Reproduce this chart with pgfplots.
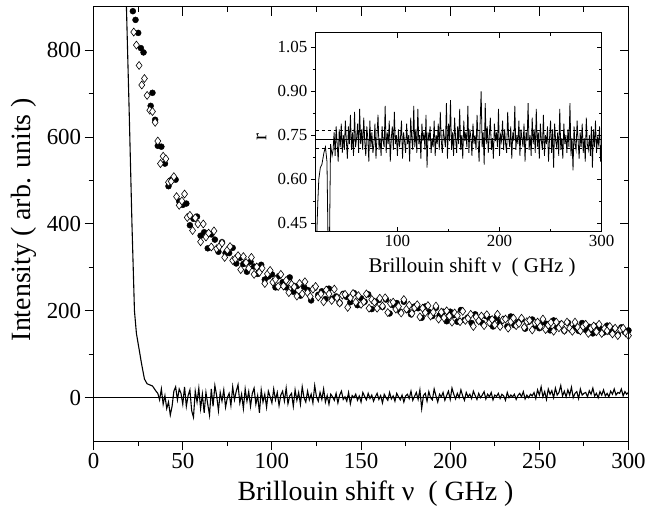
\documentclass[border=0pt]{standalone}
\usepackage{fontspec}
\setmainfont{Liberation Serif}
\usepackage{pgfplots}
\pgfplotsset{compat=1.18}
\begin{document}
\begin{tikzpicture}
\pgfplotsset{
  /pgf/number format/assume math mode=true,
  mainax/.style={scale only axis, width=537pt, height=436pt,
    xmin=0, xmax=300, ymin=-100, ymax=900,
    xtick={0,50,...,300}, ytick={0,200,...,800},
    minor x tick num=1, minor y tick num=1,
    axis line style={line width=1.2pt},
    major tick style={line width=1pt, black},
    minor tick style={line width=1pt, black},
    major tick length=9pt, minor tick length=5pt,
    tick label style={font=\fontsize{23}{25}\selectfont},
    label style={font=\fontsize{28}{30}\selectfont}},
  inax/.style={at={(223pt,210pt)}, anchor=south west,
    scale only axis, width=287pt, height=200pt,
    xmin=20, xmax=300, ymin=0.42, ymax=1.10,
    xtick={100,200,300}, ytick={0.45,0.6,0.75,0.9,1.05},
    minor x tick num=1, minor y tick num=1,
    axis line style={line width=1pt},
    major tick style={line width=0.8pt, black},
    minor tick style={line width=0.8pt, black},
    major tick length=5pt, minor tick length=3pt,
    tick label style={font=\fontsize{17}{19}\selectfont},
    yticklabel style={/pgf/number format/fixed, /pgf/number format/fixed zerofill, /pgf/number format/precision=2},
    label style={font=\fontsize{21}{23}\selectfont}}
}
\begin{axis}[mainax, tick align=outside, xtick pos=left, ytick pos=left,
  xlabel={Brillouin shift ν\ \ ( GHz )}, ylabel={Intensity ( arb. units )},
  xlabel style={at={(axis description cs:0.527,-0.122)}, anchor=center},
  ylabel style={at={(axis description cs:-0.13,0.51)}, anchor=center}]
\addplot[black, line width=0.9pt] coordinates {(0,0)(300,0)};
\addplot[black, line width=1.1pt] coordinates {
(16.8,1100)(18.4,900)(20,650)(21.5,400)(22.9,200)(24,148)(25.7,107)(26.8,80)(28.5,43)(30,32)(33,27)(35,15)
(36,10)(37,-5)(38,20)(39,-15)(40,5)(41,-25)(42,-10)(43,-40)(44,-20)(45,15)
(46,25)(47,-5)(48,20)(49,10)(50,-15)(51,25)(52,-20)(53,5)(54,18)(55,-30)
(56,-45)(57,15)(58,-10)(59,22)(60,-25)(61,8)(62,-35)(63,12)(64,-15)(65,-40)
(66,20)(67,-20)(68,28)(69,5)(70,-30)(71,12)(72,-8)(73,18)(74,-22)(75,0)
(76,10)(77,-18)(78,25)(79,-5)(80,15)(81,30)(82,-12)(83,8)(84,-25)(85,20)
(86,-8)(87,14)(88,-20)(89,10)(90,22)(91,-15)(92,5)(93,-35)(94,18)(95,-10)
(96,8)(97,-22)(98,15)(99,2)(100,-12)(101,20)(102,-5)(103,12)(104,-18)(105,6)
(106,15)(107,-8)(108,22)(109,-14)(110,4)(111,10)(112,-20)(113,18)(114,-6)(115,12)
(116,-15)(117,25)(118,0)(119,-10)(120,15)(121,-5)(122,8)(123,-12)(124,28)(125,2)
(126,-8)(127,12)(128,-4)(129,20)(130,-10)(131,5)(132,-15)(133,8)(134,2)(135,-6)
(136,10)(137,-12)(138,6)(139,15)(140,-4)(141,2)(142,-8)(143,12)(144,-14)(145,5)
(146,0)(147,8)(148,-6)(149,4)(150,-10)(151,12)(152,3)(153,-5)(154,10)(155,-2)
(156,6)(157,-8)(158,2)(159,10)(160,-4)(161,5)(162,-12)(163,8)(164,0)(165,-6)
(166,12)(167,-3)(168,4)(169,-8)(170,10)(171,2)(172,-5)(173,6)(174,-10)(175,4)
(176,8)(177,-2)(178,15)(179,-6)(180,3)(181,12)(182,-4)(183,18)(184,-25)(185,5)
(186,10)(187,-8)(188,14)(189,0)(190,-5)(191,20)(192,4)(193,-10)(194,8)(195,2)
(196,12)(197,-6)(198,5)(199,15)(200,-4)(201,22)(202,8)(203,-3)(204,10)(205,0)
(206,18)(207,4)(208,-6)(209,12)(210,2)(211,8)(212,-2)(213,15)(214,5)(215,-4)
(216,10)(217,0)(218,6)(219,14)(220,-3)(221,8)(222,2)(223,12)(224,-5)(225,6)
(226,3)(227,10)(228,-2)(229,8)(230,4)(231,-6)(232,12)(233,0)(234,6)(235,2)
(236,8)(237,-4)(238,5)(239,10)(240,2)(241,14)(242,-3)(243,6)(244,0)(245,8)
(246,4)(247,12)(248,-2)(249,18)(250,6)(251,25)(252,2)(253,14)(254,-4)(255,20)
(256,8)(257,16)(258,0)(259,22)(260,6)(261,12)(262,28)(263,4)(264,15)(265,2)
(266,18)(267,6)(268,24)(269,0)(270,10)(271,14)(272,-2)(273,20)(274,6)(275,10)
(276,12)(277,2)(278,16)(279,8)(280,22)(281,4)(282,10)(283,0)(284,14)(285,6)
(286,18)(287,4)(288,10)(289,2)(290,15)(291,8)(292,20)(293,6)(294,12)(295,10)
(296,20)(297,4)(298,14)(299,8)(300,12)};
\addplot[only marks, mark=*, mark size=3pt, black] coordinates {
(22,890)(23.5,870)(25,840)(26.5,805)(28,795)(32,672)(33,702)(34.5,640)
(36,580)(38,578)(40,539)(42,487)(44,503)(46,502)(48,452)(50,444)(52,447)(54,397)(56,412)(58,417)(60,373)(62,381)(64,344)(66,376)(68,364)(70,336)(72,358)(74,333)(76,333)(78,345)(80,309)(82,322)(84,308)(86,290)(88,313)(90,302)(92,285)(94,306)(96,272)(98,279)(100,284)(102,254)(104,280)(106,266)(108,254)(110,277)(112,244)(114,257)(116,235)(118,255)(120,248)(122,224)(124,253)(126,237)(128,245)(130,227)(132,251)(134,228)(136,233)(138,218)(140,239)(142,232)(144,220)(146,241)(148,213)(150,229)(152,221)(154,238)(156,204)(158,221)(160,225)(162,209)(164,226)(166,194)(168,213)(170,218)(172,198)(174,221)(176,202)(178,192)(180,210)(182,206)(184,184)(186,210)(188,198)(190,188)(192,207)(194,189)(196,198)(198,176)(200,198)(202,190)(204,175)(206,202)(208,179)(210,185)(212,172)(214,192)(216,177)(218,172)(220,188)(222,181)(224,164)(226,184)(228,174)(230,181)(232,164)(234,187)(236,167)(238,174)(240,180)(242,159)(244,175)(246,180)(248,165)(250,160)(252,174)(254,170)(256,155)(258,178)(260,163)(262,170)(264,154)(266,173)(268,157)(270,162)(272,154)(274,172)(276,156)(278,163)(280,148)(282,165)(284,159)(286,150)(288,166)(290,151)(292,159)(294,145)(296,162)(298,151)(300,155)};
\addplot[only marks, mark=diamond*, mark size=4pt, mark options={fill=white, draw=black, line width=0.6pt}] coordinates {
(21,905)(22.5,842)(24,812)(25.5,765)(27,720)(28.5,735)(30,696)(31.5,662)(33,659)(34.5,634)(36,591)(37.5,539)(39,556)(40.5,550)(42,496)(43.5,498)(45,509)(46.5,463)(48,443)(49.5,453)(51,469)(52.5,415)(54,420)(55.5,385)(57,414)(58.5,400)(60,359)(61.5,400)(63,370)(64.5,379)(66,347)(67.5,384)(69,343)(70.5,348)(72,356)(73.5,323)(75,340)(76.5,348)(78,316)(79.5,320)(81,327)(82.5,295)(84,325)(85.5,311)(87,298)(88.5,323)(90,284)(91.5,301)(93,289)(94.5,298)(96,263)(97.5,285)(99,293)(100.5,266)(102,272)(103.5,256)(105,284)(106.5,257)(108,270)(109.5,242)(111,261)(112.5,255)(114,234)(115.5,263)(117,239)(118.5,267)(120,242)(121.5,233)(123,250)(124.5,256)(126,232)(127.5,239)(129,221)(130.5,248)(132,239)(133.5,224)(135,250)(136.5,230)(138,218)(139.5,236)(141,238)(142.5,208)(144,230)(145.5,240)(147,220)(148.5,235)(150,215)(151.5,221)(153,239)(154.5,206)(156,226)(157.5,220)(159,206)(160.5,229)(162,211)(163.5,230)(165,196)(166.5,217)(168,220)(169.5,204)(171,210)(172.5,195)(174,226)(175.5,204)(177,213)(178.5,194)(180,207)(181.5,214)(183,186)(184.5,206)(186,196)(187.5,212)(189,188)(190.5,197)(192,211)(193.5,181)(195,197)(196.5,184)(198,200)(199.5,188)(201,174)(202.5,195)(204,189)(205.5,175)(207,199)(208.5,178)(210,183)(211.5,192)(213,164)(214.5,186)(216,177)(217.5,188)(219,166)(220.5,191)(222,173)(223.5,180)(225,168)(226.5,192)(228,164)(229.5,179)(231,181)(232.5,160)(234,175)(235.5,183)(237,166)(238.5,171)(240,183)(241.5,162)(243,175)(244.5,178)(246,156)(247.5,172)(249,174)(250.5,164)(252,181)(253.5,157)(255,167)(256.5,173)(258,153)(259.5,174)(261,161)(262.5,169)(264,155)(265.5,174)(267,160)(268.5,153)(270,174)(271.5,162)(273,154)(274.5,164)(276,169)(277.5,148)(279,160)(280.5,165)(282,152)(283.5,169)(285,148)(286.5,159)(288,154)(289.5,164)(291,147)(292.5,160)(294,143)(295.5,157)(297,160)(298.5,149)(300,143)};
\end{axis}
\begin{axis}[mainax, tick align=inside, xtick pos=right, ytick pos=right,
  xticklabels={}, yticklabels={}]
\end{axis}
\begin{axis}[inax, tick align=inside, xtick pos=both, ytick pos=right, yticklabels={},
  axis background/.style={fill=white},
  xlabel={Brillouin shift ν\ \ ( GHz )},
  xlabel style={at={(axis description cs:0.547,-0.18)}, anchor=center}]
\addplot[black, line width=1.2pt] coordinates {(20,0.735)(300,0.735)};
\addplot[black, line width=0.8pt, dashed] coordinates {(20,0.765)(300,0.765)};
\addplot[black, line width=0.8pt, dashed] coordinates {(20,0.705)(300,0.705)};
\addplot[black, line width=0.8pt] coordinates {
(21,0.41)(22,0.52)(23,0.60)(24.5,0.64)(26,0.65)(28,0.69)(29.5,0.71)(31,0.66)(32,0.40)(33.5,0.40)(34.5,0.72)(36,0.68)
(37,0.70)(38,0.76)(39,0.68)(40,0.78)(41,0.72)(42,0.66)(43,0.77)(44,0.71)(45,0.79)(46,0.69)
(47,0.75)(48,0.70)(49,0.80)(50,0.73)(51,0.67)(52,0.78)(53,0.72)(54,0.82)(55,0.70)(56,0.76)
(57,0.68)(58,0.83)(59,0.71)(60,0.74)(61,0.79)(62,0.69)(63,0.84)(64,0.72)(65,0.77)(66,0.70)
(67,0.81)(68,0.73)(69,0.68)(70,0.78)(71,0.74)(72,0.66)(73,0.80)(74,0.71)(75,0.76)(76,0.69)
(77,0.72)(78,0.79)(79,0.67)(80,0.75)(81,0.82)(82,0.70)(83,0.74)(84,0.68)(85,0.78)(86,0.73)
(87,0.71)(88,0.85)(89,0.69)(90,0.76)(91,0.72)(92,0.80)(93,0.66)(94,0.74)(95,0.78)(96,0.70)
(97,0.83)(98,0.72)(99,0.75)(100,0.68)(101,0.77)(102,0.71)(103,0.74)(104,0.80)(105,0.67)(106,0.76)
(107,0.73)(108,0.69)(109,0.79)(110,0.72)(111,0.75)(112,0.66)(113,0.81)(114,0.74)(115,0.70)(116,0.85)
(117,0.71)(118,0.77)(119,0.69)(120,0.84)(121,0.72)(122,0.75)(123,0.67)(124,0.79)(125,0.73)(126,0.76)
(127,0.70)(128,0.82)(129,0.64)(130,0.76)(131,0.73)(132,0.78)(133,0.69)(134,0.74)(135,0.71)(136,0.80)
(137,0.68)(138,0.75)(139,0.72)(140,0.79)(141,0.70)(142,0.83)(143,0.73)(144,0.69)(145,0.77)(146,0.74)
(147,0.71)(148,0.86)(149,0.67)(150,0.79)(151,0.73)(152,0.87)(153,0.70)(154,0.76)(155,0.68)(156,0.81)
(157,0.74)(158,0.69)(159,0.78)(160,0.72)(161,0.84)(162,0.70)(163,0.75)(164,0.67)(165,0.80)(166,0.73)
(167,0.76)(168,0.71)(169,0.85)(170,0.69)(171,0.77)(172,0.74)(173,0.68)(174,0.79)(175,0.72)(176,0.75)
(177,0.70)(178,0.82)(179,0.73)(180,0.66)(181,0.79)(182,0.90)(183,0.71)(184,0.76)(185,0.65)(186,0.86)
(187,0.72)(188,0.78)(189,0.69)(190,0.75)(191,0.81)(192,0.70)(193,0.74)(194,0.67)(195,0.79)(196,0.73)
(197,0.76)(198,0.71)(199,0.84)(200,0.68)(201,0.75)(202,0.73)(203,0.80)(204,0.70)(205,0.77)(206,0.72)
(207,0.69)(208,0.83)(209,0.74)(210,0.71)(211,0.78)(212,0.67)(213,0.76)(214,0.73)(215,0.85)(216,0.70)
(217,0.75)(218,0.72)(219,0.80)(220,0.68)(221,0.77)(222,0.74)(223,0.71)(224,0.79)(225,0.66)(226,0.76)
(227,0.73)(228,0.86)(229,0.70)(230,0.75)(231,0.68)(232,0.81)(233,0.72)(234,0.77)(235,0.69)(236,0.84)
(237,0.71)(238,0.76)(239,0.67)(240,0.79)(241,0.73)(242,0.70)(243,0.82)(244,0.68)(245,0.75)(246,0.72)
(247,0.78)(248,0.66)(249,0.74)(250,0.80)(251,0.69)(252,0.77)(253,0.64)(254,0.79)(255,0.73)(256,0.71)
(257,0.76)(258,0.68)(259,0.84)(260,0.70)(261,0.74)(262,0.67)(263,0.79)(264,0.72)(265,0.75)(266,0.69)
(267,0.77)(268,0.71)(269,0.86)(270,0.68)(271,0.74)(272,0.63)(273,0.78)(274,0.72)(275,0.70)(276,0.80)
(277,0.73)(278,0.67)(279,0.76)(280,0.71)(281,0.79)(282,0.69)(283,0.74)(284,0.66)(285,0.81)(286,0.72)
(287,0.70)(288,0.75)(289,0.68)(290,0.78)(291,0.64)(292,0.77)(293,0.71)(294,0.80)(295,0.69)(296,0.74)
(297,0.72)(298,0.78)(299,0.66)(300,0.73)};
\end{axis}
\begin{axis}[inax, tick align=outside, ytick pos=left, xtick=\empty,
  ylabel={r},
  ylabel style={at={(axis description cs:-0.19,0.475)}, anchor=center}]
\end{axis}
\path (-94pt,-77pt) rectangle (555pt,442pt);
\end{tikzpicture}
\end{document}
